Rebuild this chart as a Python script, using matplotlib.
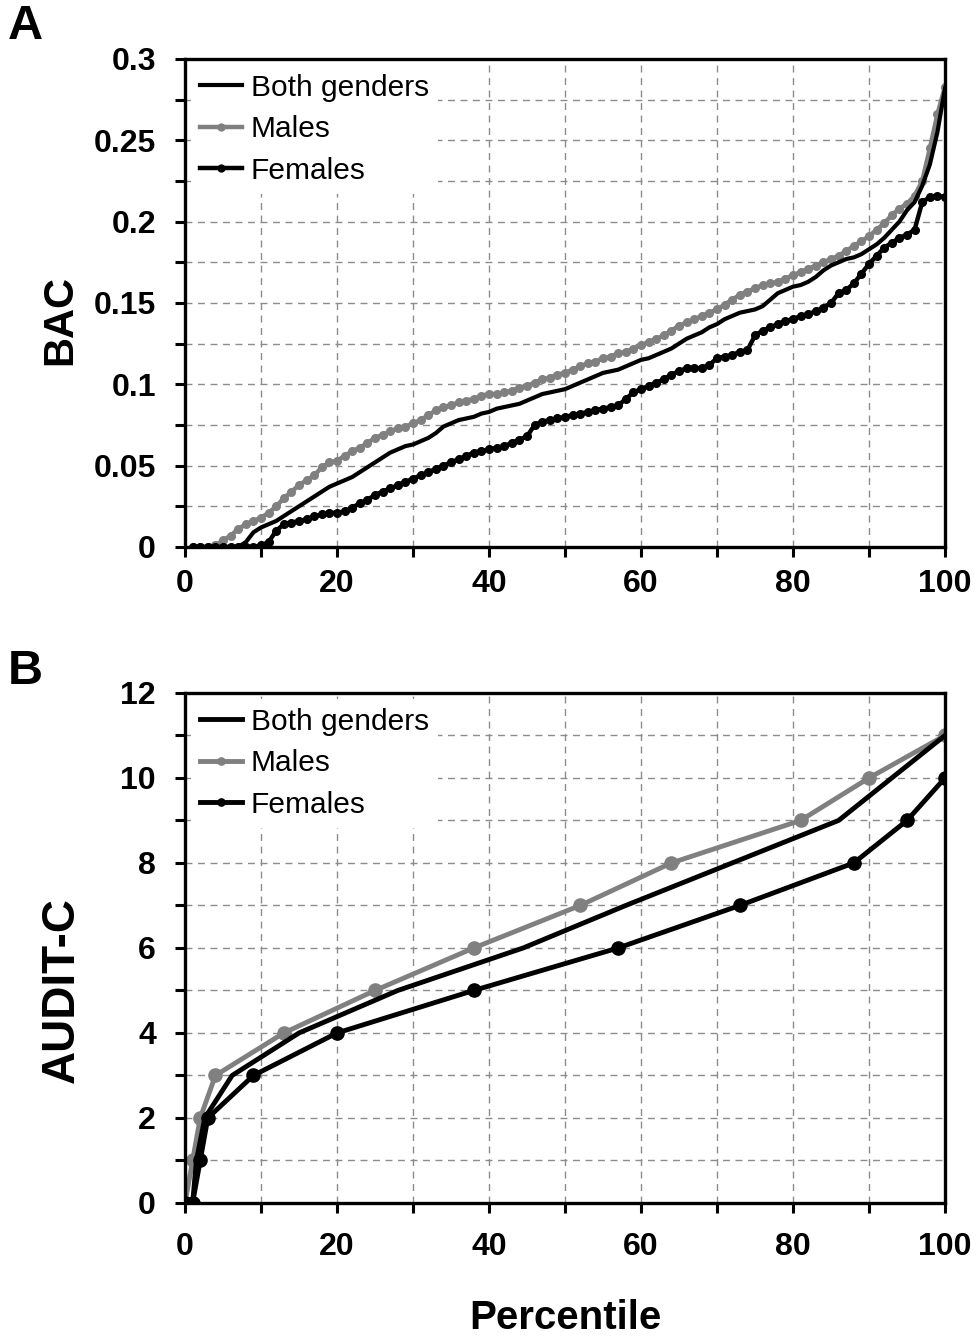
import matplotlib
matplotlib.use("Agg")
import matplotlib.pyplot as plt
from matplotlib.ticker import MultipleLocator

plt.rcParams['font.family'] = ['Liberation Sans', 'DejaVu Sans']

# panel A: BAC by percentile (1..100)
pct = list(range(1, 101))
bac_males = [0, 0, 0, 0.001, 0.004, 0.007, 0.011, 0.014, 0.016, 0.018,
             0.021, 0.025, 0.030, 0.034, 0.038, 0.041, 0.044, 0.049, 0.052, 0.053,
             0.056, 0.059, 0.061, 0.064, 0.067, 0.069, 0.071, 0.073, 0.074, 0.076,
             0.078, 0.081, 0.084, 0.086, 0.087, 0.089, 0.090, 0.091, 0.093, 0.094,
             0.094, 0.095, 0.096, 0.098, 0.099, 0.101, 0.103, 0.104, 0.106, 0.107,
             0.109, 0.111, 0.113, 0.114, 0.116, 0.117, 0.119, 0.120, 0.122, 0.124,
             0.126, 0.128, 0.130, 0.133, 0.136, 0.138, 0.140, 0.142, 0.144, 0.146,
             0.149, 0.152, 0.155, 0.157, 0.159, 0.161, 0.162, 0.163, 0.165, 0.167,
             0.169, 0.171, 0.173, 0.175, 0.177, 0.179, 0.182, 0.185, 0.188, 0.191,
             0.195, 0.199, 0.204, 0.208, 0.211, 0.216, 0.225, 0.245, 0.266, 0.283]
bac_females = [0, 0, 0, 0, 0, 0, 0, 0, 0, 0.001,
               0.003, 0.010, 0.014, 0.015, 0.016, 0.017, 0.019, 0.020, 0.021, 0.021,
               0.022, 0.024, 0.027, 0.029, 0.032, 0.034, 0.036, 0.038, 0.040, 0.042,
               0.044, 0.046, 0.048, 0.050, 0.052, 0.054, 0.056, 0.058, 0.059, 0.060,
               0.061, 0.062, 0.064, 0.066, 0.068, 0.075, 0.077, 0.078, 0.079, 0.080,
               0.081, 0.082, 0.083, 0.084, 0.085, 0.086, 0.087, 0.091, 0.095, 0.097,
               0.099, 0.101, 0.103, 0.106, 0.108, 0.110, 0.110, 0.110, 0.112, 0.116,
               0.117, 0.118, 0.120, 0.121, 0.130, 0.133, 0.135, 0.137, 0.139, 0.140,
               0.142, 0.143, 0.145, 0.147, 0.150, 0.156, 0.158, 0.162, 0.168, 0.174,
               0.179, 0.184, 0.187, 0.190, 0.192, 0.195, 0.212, 0.215, 0.216, 0.215]
bac_both = [0, 0, 0, 0, 0, 0, 0, 0.003, 0.009, 0.012,
            0.014, 0.016, 0.019, 0.022, 0.025, 0.028, 0.031, 0.034, 0.037, 0.039,
            0.041, 0.043, 0.046, 0.049, 0.052, 0.055, 0.058, 0.060, 0.062, 0.063,
            0.065, 0.067, 0.070, 0.074, 0.076, 0.078, 0.079, 0.080, 0.082, 0.083,
            0.085, 0.086, 0.087, 0.088, 0.090, 0.092, 0.094, 0.095, 0.096, 0.097,
            0.099, 0.101, 0.103, 0.105, 0.107, 0.108, 0.109, 0.111, 0.113, 0.115,
            0.116, 0.118, 0.120, 0.122, 0.125, 0.128, 0.130, 0.132, 0.135, 0.137,
            0.140, 0.142, 0.144, 0.145, 0.146, 0.148, 0.152, 0.156, 0.158, 0.160,
            0.161, 0.163, 0.166, 0.170, 0.173, 0.175, 0.177, 0.178, 0.180, 0.183,
            0.186, 0.190, 0.195, 0.200, 0.207, 0.212, 0.222, 0.235, 0.255, 0.282]

# panel B: AUDIT-C by percentile
pb_both = [0, 1, 1.5, 2.6, 6.2, 15, 28, 44.5, 58, 72, 86, 93, 100]
audit_both = [0, 0, 1, 2, 3, 4, 5, 6, 7, 8, 9, 10, 11]
pb_males = [0, 1, 2, 4, 13, 25, 38, 52, 64, 81, 90, 100]
audit_males = [0, 1, 2, 3, 4, 5, 6, 7, 8, 9, 10, 11]
pb_females = [0, 1, 2, 3, 9, 20, 38, 57, 73, 88, 95, 100]
audit_females = [0, 0, 1, 2, 3, 4, 5, 6, 7, 8, 9, 10]

grey = '#808080'

fig = plt.figure(figsize=(9.8, 13.39), dpi=100)
axA = fig.add_axes([0.1888, 0.5915, 0.7755, 0.3645])
axB = fig.add_axes([0.1888, 0.1016, 0.7755, 0.3809])


def style(ax):
    ax.grid(True, which='both', linestyle=(0, (5, 4)), color='#8c8c8c', linewidth=1.0)
    ax.set_axisbelow(True)
    for s in ax.spines.values():
        s.set_linewidth(2.4)
    ax.tick_params(which='both', direction='out', length=7, width=2.2,
                   labelsize=23, pad=14)
    for lab in ax.get_xticklabels() + ax.get_yticklabels():
        lab.set_fontweight('bold')


axA.plot(pct, bac_both, color='black', lw=3, label='Both genders', zorder=3)
axA.plot(pct, bac_males, color=grey, lw=3.2, marker='o', ms=5.5, label='Males', zorder=2)
axA.plot(pct, bac_females, color='black', lw=3.2, marker='o', ms=5.5, label='Females', zorder=2)
axA.set_xlim(0, 100)
axA.set_ylim(0, 0.3)
axA.xaxis.set_major_locator(MultipleLocator(20))
axA.xaxis.set_minor_locator(MultipleLocator(10))
axA.yaxis.set_minor_locator(MultipleLocator(0.025))
axA.set_yticks([0, 0.05, 0.1, 0.15, 0.2, 0.25, 0.3])
axA.set_yticklabels(['0', '0.05', '0.1', '0.15', '0.2', '0.25', '0.3'])
axA.tick_params(axis='x', pad=10)
style(axA)
axA.tick_params(axis='x', pad=9)

axB.plot(pb_both, audit_both, color='black', lw=3.5, label='Both genders', zorder=3)
axB.plot(pb_males, audit_males, color=grey, lw=3.5, marker='o', ms=9.5, label='Males', zorder=2)
axB.plot(pb_females, audit_females, color='black', lw=3.5, marker='o', ms=9.5, label='Females', zorder=2)
axB.set_xlim(0, 100)
axB.set_ylim(0, 12)
axB.xaxis.set_major_locator(MultipleLocator(20))
axB.xaxis.set_minor_locator(MultipleLocator(10))
axB.yaxis.set_major_locator(MultipleLocator(2))
axB.yaxis.set_minor_locator(MultipleLocator(1))
style(axB)

for ax, ms in ((axA, 0.9), (axB, 0.55)):
    leg = ax.legend(loc='upper left', fontsize=21.5, frameon=True, fancybox=False,
                    handlelength=1.4, handletextpad=0.3, labelspacing=0.45,
                    borderaxespad=0.2, borderpad=0.3, markerscale=ms)
    leg.get_frame().set_edgecolor('none')
    leg.get_frame().set_facecolor('white')
    leg.get_frame().set_alpha(1)

fig.text(0.0612, 0.761, 'BAC', fontsize=30, fontweight='bold', rotation=90,
         ha='center', va='center')
fig.text(0.0633, 0.2606, 'AUDIT-C', fontsize=33, fontweight='bold', rotation=90,
         ha='center', va='center')
fig.text(0.5765, 0.0157, 'Percentile', fontsize=29, fontweight='bold',
         ha='center', va='center')

fig.text(0.008, 0.997, 'A', fontsize=35, fontweight='bold', va='top')
fig.text(0.008, 0.515, 'B', fontsize=35, fontweight='bold', va='top')

fig.savefig('out.png', dpi=100)
